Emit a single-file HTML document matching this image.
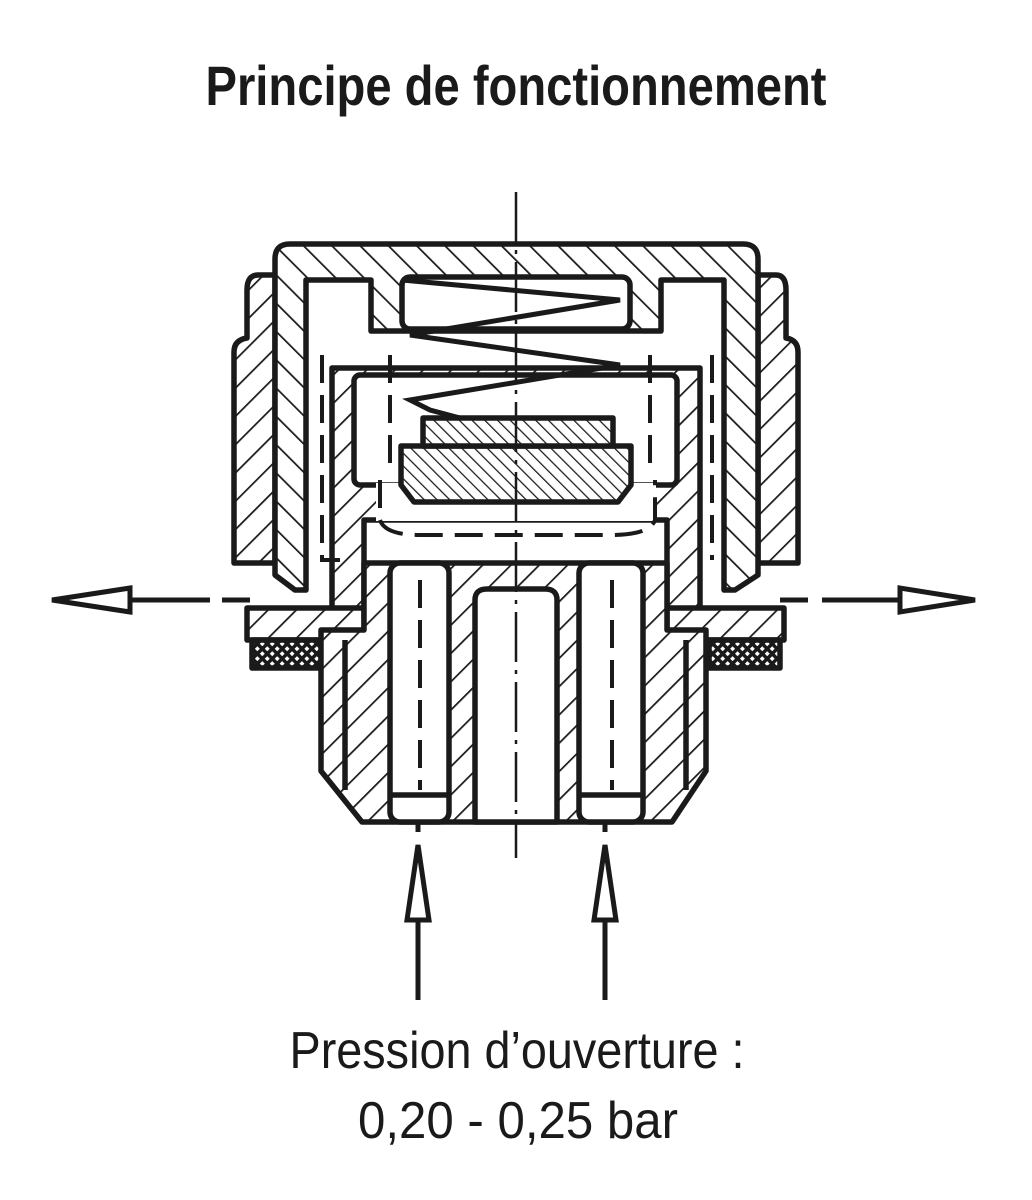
<!DOCTYPE html>
<html><head><style>
html,body{margin:0;padding:0;background:#fff;}
svg{display:block}
</style></head><body>
<svg width="1032" height="1200" viewBox="0 0 1032 1200" xmlns="http://www.w3.org/2000/svg">
<defs>
<pattern id="h" width="20" height="20" patternUnits="userSpaceOnUse" patternTransform="rotate(45)">
<rect width="20" height="20" fill="#fff"/><line x1="0" y1="0" x2="0" y2="20" stroke="#1a1a1a" stroke-width="3.5"/></pattern>
<pattern id="h2" width="20" height="20" patternUnits="userSpaceOnUse" patternTransform="rotate(-45)">
<rect width="20" height="20" fill="#fff"/><line x1="0" y1="0" x2="0" y2="20" stroke="#1a1a1a" stroke-width="3.5"/></pattern>
<pattern id="hf" width="9" height="9" patternUnits="userSpaceOnUse" patternTransform="rotate(-45)">
<rect width="9" height="9" fill="#fff"/><line x1="0" y1="0" x2="0" y2="9" stroke="#1a1a1a" stroke-width="2.5"/></pattern>
<pattern id="x" width="7" height="7" patternUnits="userSpaceOnUse" patternTransform="rotate(45)">
<rect width="7" height="7" fill="#1a1a1a"/><rect x="2" y="2" width="3.5" height="3.5" fill="#fff"/></pattern>
</defs>
<text x="516" y="105" text-anchor="middle" font-family="Liberation Sans, sans-serif" font-weight="bold" font-size="56" textLength="621" lengthAdjust="spacingAndGlyphs" fill="#1a1a1a">Principe de fonctionnement</text>

<g stroke="#1a1a1a" stroke-width="5.5" stroke-linejoin="round" fill="url(#h)">
<path d="M258,275 L275,275 L275,563 L234,563 L234,352 Q234,340 247,338 L247,290 Q247,275 258,275Z"/>
<path d="M776,275 L758,275 L758,563 L798,563 L798,352 Q798,340 786,338 L786,290 Q786,275 776,275Z"/>
<path d="M290,244 L743,244 Q758,244 758,259 L758,575 L735,590 L724,590 L724,280 L661,280 L661,331 L371,331 L371,280 L306,280 L306,590 L295,590 L275,575 L275,259 Q275,244 290,244Z" fill="url(#h2)"/>
<rect x="402" y="277" width="228" height="52" rx="8" fill="#fff"/>
<path d="M332,368 L700,368 L700,612 L667,612 L667,520 L364,520 L364,612 L332,612Z"/>
<rect x="354" y="375" width="323" height="110" rx="6" fill="#fff"/>
<rect x="376" y="483" width="280" height="38" fill="#fff" stroke="none"/>
<path d="M247,608 L364,608 L364,640 L247,640Z"/>
<path d="M667,608 L784,608 L784,640 L667,640Z"/>
<rect x="252" y="640" width="71" height="28" fill="url(#x)"/>
<rect x="709" y="640" width="71" height="28" fill="url(#x)"/>
<path d="M321,640 L321,630 L364,630 L364,563 L667,563 L667,630 L706,630 L706,771 L672,822 L362,822 L321,771Z"/>
<rect x="390" y="563" width="59" height="259" rx="10" fill="#fff"/>
<rect x="579" y="563" width="64" height="259" rx="10" fill="#fff"/>
<path d="M475,822 L475,600 Q475,589 487,589 L545,589 Q557,589 557,600 L557,822Z" fill="#fff"/>
<line x1="390" y1="795" x2="449" y2="795"/><line x1="579" y1="795" x2="643" y2="795"/>
<line x1="345" y1="640" x2="345" y2="790"/><line x1="686" y1="640" x2="686" y2="790"/>
<path d="M401,446 L631,446 L631,485 L618,502 L414,502 L401,485Z" fill="url(#hf)"/>
<rect x="423" y="418" width="190" height="28" fill="url(#hf)"/>
</g>
<g stroke="#1a1a1a" stroke-width="4" fill="none" stroke-dasharray="28,12">
<path d="M322,355 L322,560 L340,560 M390,355 L390,470 M650,355 L650,470 M712,355 L712,560"/>
<path d="M380,480 L380,520 Q385,535 420,535 L610,535 Q650,535 655,520 L655,480"/>
<path d="M420,580 L420,790 M612,580 L612,790"/>
</g>
<polyline points="402,280 620,300 410,335 620,365 410,400 430,410 460,418" fill="none" stroke="#1a1a1a" stroke-width="5" stroke-linejoin="miter"/>
<line x1="516" y1="192" x2="516" y2="858" stroke="#1a1a1a" stroke-width="2.5" stroke-dasharray="50,8,4,8"/>
<g stroke="#1a1a1a" stroke-width="5" fill="#fff">
<line x1="130" y1="600" x2="210" y2="600"/><line x1="222" y1="600" x2="250" y2="600"/>
<polygon points="52,600 130,588 130,612"/>
<line x1="822" y1="600" x2="900" y2="600"/><line x1="780" y1="600" x2="808" y2="600"/>
<polygon points="975,600 900,588 900,612"/>
<line x1="418" y1="822" x2="418" y2="832"/><line x1="605" y1="822" x2="605" y2="832"/>
<line x1="418" y1="920" x2="418" y2="1000"/><polygon points="418,845 407,920 429,920"/>
<line x1="605" y1="920" x2="605" y2="1000"/><polygon points="605,845 594,920 616,920"/>
</g>
<text x="517" y="1068" text-anchor="middle" font-family="Liberation Sans, sans-serif" font-size="52" textLength="455" lengthAdjust="spacingAndGlyphs" fill="#1a1a1a">Pression d’ouverture :</text>
<text x="518" y="1138" text-anchor="middle" font-family="Liberation Sans, sans-serif" font-size="52" textLength="320" lengthAdjust="spacingAndGlyphs" fill="#1a1a1a">0,20 - 0,25 bar</text>
</svg>
</body></html>
